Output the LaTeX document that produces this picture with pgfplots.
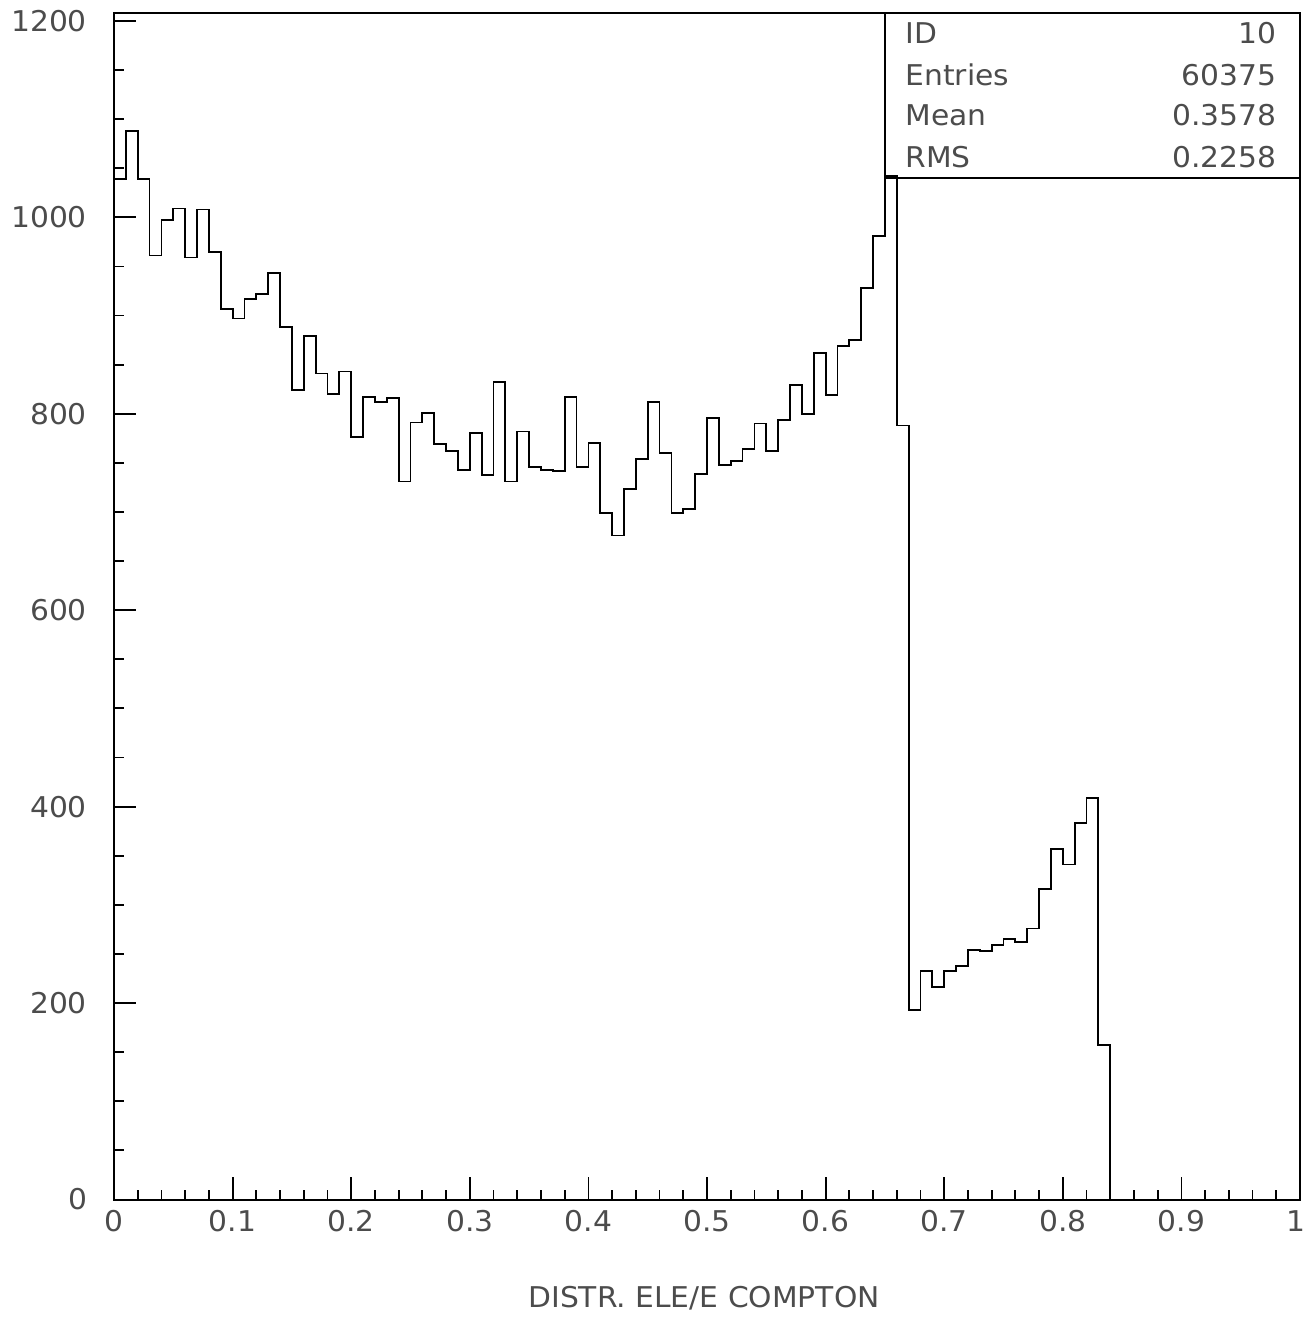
\documentclass[border=0pt]{standalone}
\usepackage{fontspec}
\setmainfont{DejaVu Sans}[FakeStretch=1.04]
\usepackage{pgfplots}
\pgfplotsset{compat=1.18}
\begin{document}
\begin{tikzpicture}
\begin{axis}[
  scale only axis,
  width=593pt, height=593.25pt,
  xmin=0, xmax=1, ymin=0, ymax=1208,
  axis line style={line width=1pt},
  every tick/.style={line width=0.9pt, black},
  tick align=inside,
  tick pos=left,
  major tick length=11pt,
  minor tick length=5pt,
  xtick={0,0.1,0.2,0.3,0.4,0.5,0.6,0.7,0.8,0.9,1},
  xticklabels={0,0.1,0.2,0.3,0.4,0.5,0.6,0.7,0.8,0.9,\hspace*{-4pt}1},
  minor x tick num=4,
  ytick={0,200,400,600,800,1000,1200},
  yticklabels={0,200,400,600,800,1000,1200},
  minor y tick num=3,
  ticklabel style={font=\fontsize{14.3}{17}\selectfont, text=black!70},
  xticklabel style={yshift=-2pt},
  yticklabel style={xshift=-10pt},
  xlabel={DISTR. ELE/E COMPTON},
  xlabel style={at={(axis description cs:0.5,0)}, anchor=base, yshift=-53.75pt, xshift=-1.5pt, font=\fontsize{14.3}{17}\selectfont, text=black!70},
  clip=false,
]
\addplot[const plot, line width=0.9pt, black] coordinates {
(0.00,1039) (0.01,1088) (0.02,1039) (0.03,961) (0.04,997) (0.05,1009) (0.06,959) (0.07,1008) (0.08,965) (0.09,907)
(0.10,897) (0.11,917) (0.12,922) (0.13,943) (0.14,888) (0.15,824) (0.16,879) (0.17,841) (0.18,820) (0.19,843)
(0.20,776) (0.21,817) (0.22,812) (0.23,816) (0.24,731) (0.25,791) (0.26,801) (0.27,769) (0.28,762) (0.29,743)
(0.30,780) (0.31,738) (0.32,832) (0.33,731) (0.34,782) (0.35,746) (0.36,743) (0.37,742) (0.38,817) (0.39,746)
(0.40,770) (0.41,699) (0.42,676) (0.43,723) (0.44,754) (0.45,812) (0.46,760) (0.47,699) (0.48,703) (0.49,739)
(0.50,796) (0.51,748) (0.52,752) (0.53,764) (0.54,790) (0.55,762) (0.56,794) (0.57,829) (0.58,800) (0.59,862)
(0.60,819) (0.61,869) (0.62,875) (0.63,928) (0.64,981) (0.65,1042) (0.66,788) (0.67,193) (0.68,233) (0.69,216)
(0.70,233) (0.71,238) (0.72,254) (0.73,253) (0.74,259) (0.75,265) (0.76,262) (0.77,276) (0.78,316) (0.79,357)
(0.80,341) (0.81,383) (0.82,409) (0.83,157) (0.84,0) (1.00,0)
};
\draw[line width=1pt] (axis cs:0.65,1208) -- (axis cs:0.65,1039.7) -- (axis cs:1,1039.7);
\begin{scope}[every node/.style={inner sep=0pt, font=\fontsize{14.3}{17}\selectfont, text=black!70}]
\node[anchor=base west] at (axis cs:0.667,1176.8) {ID};
\node[anchor=base west] at (axis cs:0.667,1134.4) {Entries};
\node[anchor=base west] at (axis cs:0.667,1093.1) {Mean};
\node[anchor=base west] at (axis cs:0.667,1051.2) {RMS};
\node[anchor=base east] at (axis cs:0.9806,1176.8) {10};
\node[anchor=base east] at (axis cs:0.9806,1134.4) {60375};
\node[anchor=base east] at (axis cs:0.9806,1093.1) {0.3578};
\node[anchor=base east] at (axis cs:0.9806,1051.2) {0.2258};
\end{scope}
\coordinate (bl) at (rel axis cs:0,0);
\coordinate (tr) at (rel axis cs:1,1);
\end{axis}
\pgfresetboundingbox
\path[use as bounding box] ([shift={(-57pt,-59.25pt)}]bl) rectangle ([shift={(3pt,6.5pt)}]tr);
\end{tikzpicture}
\end{document}
